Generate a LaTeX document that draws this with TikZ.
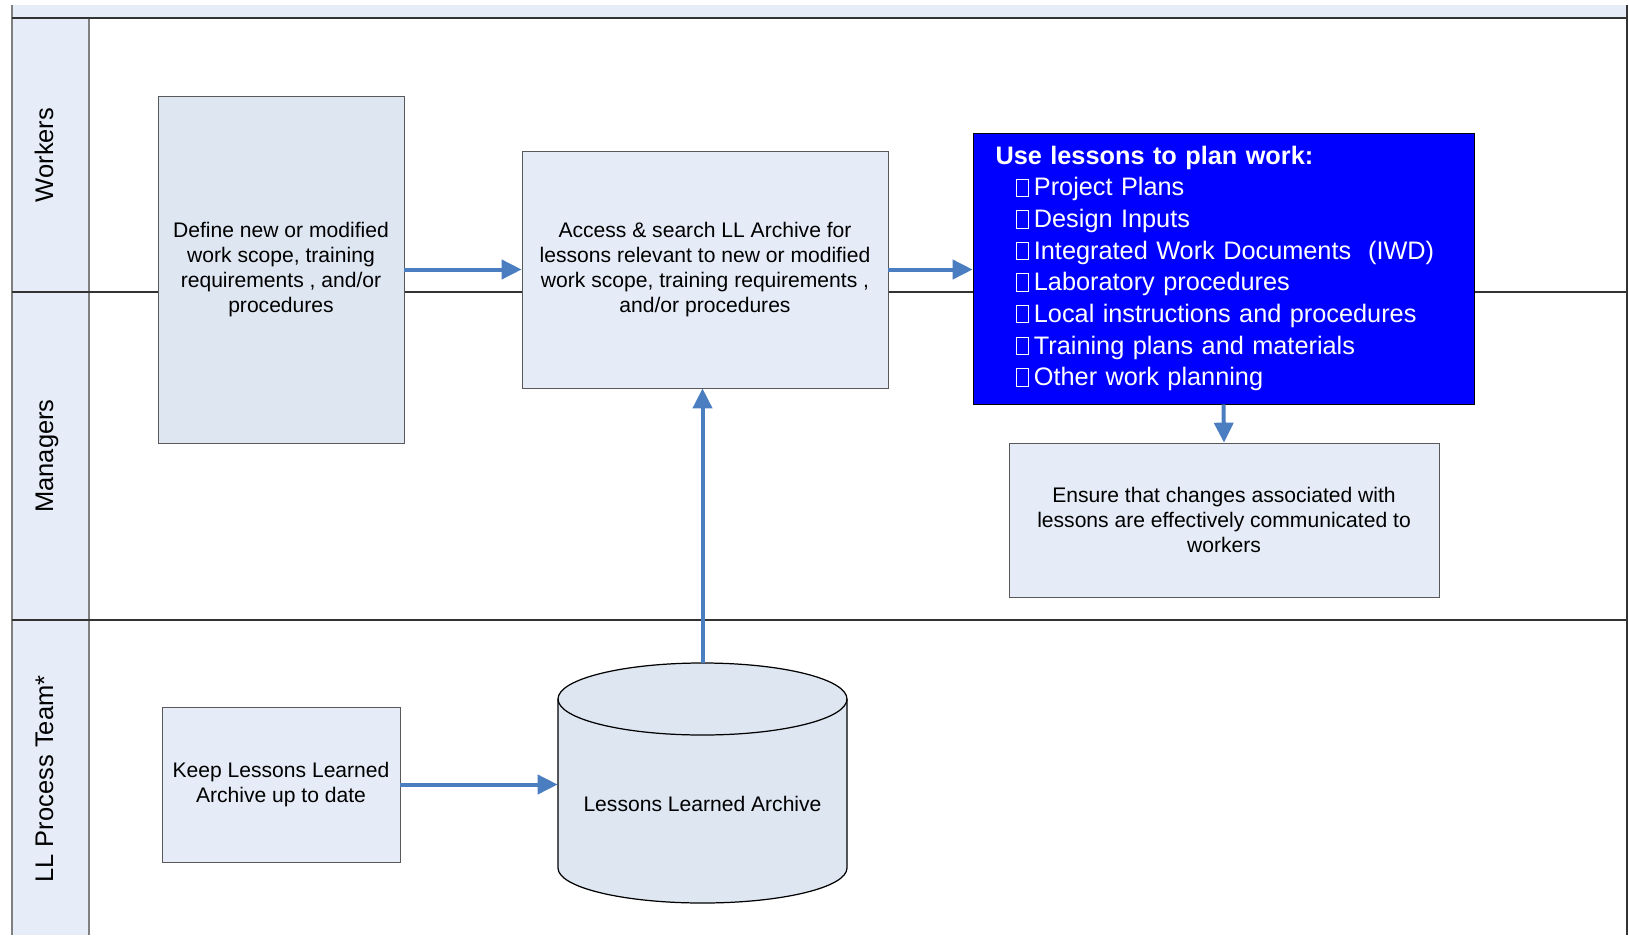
\documentclass[tikz,border=0pt]{standalone}
\usepackage{fontspec}
\setmainfont{Liberation Sans}
\usepackage{tikz}
\usetikzlibrary{arrows.meta}
\definecolor{lanefill}{HTML}{E6EDF8}
\definecolor{boxfill}{HTML}{E5ECF7}
\definecolor{darkfill}{HTML}{DEE6F2}
\definecolor{flowblue}{HTML}{4A7EC1}
\definecolor{planblue}{HTML}{0000FF}
\tikzset{>={Triangle[length=4mm,width=3.8mm]}}
\tikzset{
	task/.style={draw=black!65,fill=boxfill,align=center,inner sep=0pt,font=\fontsize{12}{14.2}\selectfont},
	flow/.style={->,draw=flowblue,line width=0.8mm},
	lanelabel/.style={rotate=90,anchor=base,font=\fontsize{14.5}{17}\selectfont},
	laneline/.style={draw=black!80,line width=0.6pt},
	laneedge/.style={draw=black!50,line width=0.6pt}
}
\newcommand{\nobox}{{\setlength{\fboxsep}{0pt}\setlength{\fboxrule}{0.25pt}\fbox{\rule{0pt}{3.4mm}\hspace{2.4mm}}}}
\newcommand{\planitem}[1]{\hspace*{4.1mm}\nobox\hspace{1mm}#1}

\begin{document}
\begin{tikzpicture}[x=0.2mm,y=0.2mm]
	\useasboundingbox (0,0) rectangle (1629,-935);
	% pool and lanes
	\fill[lanefill] (12,-5) rectangle (1627,-18);
	\fill[lanefill] (12,-18) rectangle (89,-935);
	\draw[laneedge] (12,-5) -- (12,-935);
	\draw[laneedge] (89,-18) -- (89,-935);
	\draw[laneline] (1627,-5) -- (1627,-935);
	\draw[laneline] (12,-18) -- (1627,-18);
	\draw[laneline] (12,-292) -- (1627,-292);
	\draw[laneline] (12,-620) -- (1627,-620);
	\node[lanelabel] (workers) at (53,-155) {Workers};
	\node[lanelabel] (managers) at (53,-456) {Managers};
	\node[lanelabel] (llteam) at (53,-779) {LL Process Team*};
	% steps
	\node[task,fill=darkfill,minimum width=4.92cm,minimum height=6.94cm] (define) at (281,-269.5) {Define new or modified\\work scope, training\\requirements , and/or\\procedures};
	\node[task,minimum width=7.32cm,minimum height=4.74cm] (access) at (705,-269.5) {Access \& search LL Archive for\\lessons relevant to new or modified\\work scope, training requirements ,\\and/or procedures};
	\node[draw=black,fill=planblue,text=white,minimum height=5.42cm,text width=9.12cm,inner xsep=4.5mm,align=left,font=\fontsize{14.4}{18}\selectfont] (plan) at (1223.5,-268.5) {\textbf{Use lessons to plan work:}\\
		\planitem{Project Plans}\\
		\planitem{Design Inputs}\\
		\planitem{Integrated Work Documents\ \ (IWD)}\\
		\planitem{Laboratory procedures}\\
		\planitem{Local instructions and procedures}\\
		\planitem{Training plans and materials}\\
		\planitem{Other work planning}};
	\node[task,minimum width=8.6cm,minimum height=3.08cm] (ensure) at (1224,-520) {Ensure that changes associated with\\lessons are effectively communicated to\\workers};
	\node[task,minimum width=4.76cm,minimum height=3.1cm] (keep) at (281,-784.5) {Keep Lessons Learned\\Archive up to date};
	% archive cylinder
	\node[minimum width=5.78cm,minimum height=4.8cm,inner sep=0pt] (archive) at (702.5,-783) {};
	\draw[fill=darkfill,line width=0.7pt] (558,-699) -- (558,-868) arc[start angle=180,end angle=360,x radius=144.5,y radius=35] -- (847,-699) arc[start angle=0,end angle=180,x radius=144.5,y radius=36] -- cycle;
	\draw[line width=0.7pt] (558,-699) arc[start angle=180,end angle=360,x radius=144.5,y radius=36];
	\node[font=\fontsize{12}{14.2}\selectfont] (archivelabel) at (702.5,-804) {Lessons Learned Archive};
	% flows
	\draw[flow] (define) -- (access);
	\draw[flow] (access.east) -- (access.east -| plan.west);
	\draw[flow] (plan.south) -- (ensure.north);
	\draw[flow] (keep.east) -- (keep.east -| archive.west);
	\draw[flow] (archive.north) -- (archive.north |- access.south);
\end{tikzpicture}
\end{document}
